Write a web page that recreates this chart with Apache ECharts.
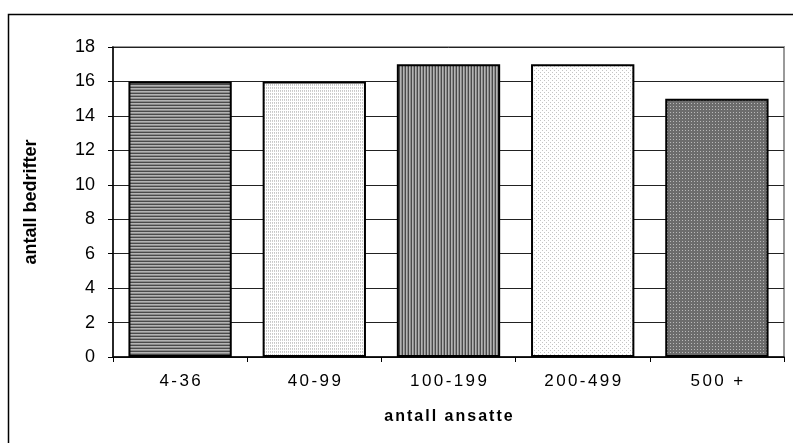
<!DOCTYPE html>
<html>
<head>
<meta charset="utf-8">
<script src="https://cdn.jsdelivr.net/npm/echarts@6/dist/echarts.min.js"></script>
<style>
  html, body { margin: 0; padding: 0; background: #fff; }
  #chart { width: 793px; height: 443px; }
</style>
</head>
<body>
<div id="chart"></div>
<script>
// Number of companies by employee-count group
const categories = ['4-36', '40-99', '100-199', '200-499', '500 +'];
const companies = [16, 16, 17, 17, 15];
const xAxisTitle = 'antall ansatte';
const yAxisTitle = 'antall bedrifter';

// Small tiled canvases used as bar fills
function makePattern(w, h, bg, dots) {
  const c = document.createElement('canvas');
  c.width = w; c.height = h;
  const ctx = c.getContext('2d');
  ctx.fillStyle = bg;
  ctx.fillRect(0, 0, w, h);
  dots.forEach(function (d) {
    ctx.fillStyle = d[2];
    ctx.fillRect(d[0], d[1], 1, 1);
  });
  return { image: c, repeat: 'repeat' };
}
function rowStripes(colors) {
  const dots = [];
  colors.forEach(function (col, y) { dots.push([0, y, col]); });
  return makePattern(1, colors.length, colors[0], dots);
}
function colStripes(colors) {
  const dots = [];
  colors.forEach(function (col, x) { dots.push([x, 0, col]); });
  return makePattern(colors.length, 1, colors[0], dots);
}

const fills = [
  rowStripes(['#4a4a4a', '#b4b4b4', '#8c8c8c']),
  makePattern(2, 3, '#ffffff', [[0, 0, '#c8c8c8'], [0, 1, '#d0d0d0']]),
  colStripes(['#4a4a4a', '#b4b4b4', '#8c8c8c']),
  makePattern(4, 4, '#ffffff', [[0, 0, '#c4c4c4'], [2, 2, '#c4c4c4']]),
  makePattern(3, 3, '#6c6c6c', [[1, 1, '#b8b8b8']])
];

// Spread characters out using per-character rich text tokens
function spaced(str, key) {
  return str.split('').map(function (ch) { return '{' + key + '|' + ch + '}'; }).join('');
}

const FONT = 'Liberation Sans, Arial, sans-serif';

const chart = echarts.init(document.getElementById('chart'), null, { renderer: 'canvas' });

chart.setOption({
  animation: false,
  backgroundColor: '#ffffff',
  graphic: [{
    type: 'rect',
    shape: { x: 8.5, y: 14.5, width: 900, height: 600 },
    style: { fill: 'none', stroke: '#000', lineWidth: 1.5 },
    silent: true,
    z: -1
  }],
  grid: {
    left: 113, right: 9, top: 47, bottom: 86,
    show: true,
    borderColor: '#9a9a9a',
    borderWidth: 2,
    backgroundColor: 'transparent'
  },
  xAxis: {
    type: 'category',
    data: categories,
    name: spaced(xAxisTitle, 'n'),
    nameLocation: 'middle',
    nameGap: 52,
    nameTextStyle: {
      fontFamily: FONT, fontWeight: 'bold', fontSize: 16, color: '#000',
      rich: {
        n: { fontFamily: FONT, fontWeight: 'bold', fontSize: 16, color: '#000', padding: [0, 1, 0, 1] }
      }
    },
    axisLine: { lineStyle: { color: '#000', width: 1.5 } },
    axisTick: { show: true, alignWithLabel: false, length: 5, lineStyle: { color: '#000', width: 1 } },
    axisLabel: {
      interval: 0,
      margin: 16,
      fontFamily: FONT, fontSize: 17, color: '#000',
      formatter: function (v) { return spaced(v, 'c'); },
      rich: {
        c: { fontFamily: FONT, fontSize: 17, color: '#000', padding: [0, 1.2, 0, 1.2] }
      }
    },
    splitLine: { show: false }
  },
  yAxis: {
    type: 'value',
    min: 0,
    max: 18,
    interval: 2,
    name: yAxisTitle,
    nameLocation: 'middle',
    nameGap: 73,
    nameRotate: 90,
    nameTextStyle: { fontFamily: FONT, fontWeight: 'bold', fontSize: 18, color: '#000' },
    axisLine: { show: true, lineStyle: { color: '#000', width: 1.5 } },
    axisTick: { show: true, length: 5, lineStyle: { color: '#000', width: 1 } },
    axisLabel: { margin: 18, fontFamily: FONT, fontSize: 18, color: '#000' },
    splitLine: { show: true, lineStyle: { color: '#222', width: 1 } }
  },
  series: [{
    type: 'bar',
    barCategoryGap: '23%',
    data: companies.map(function (v, i) {
      return { value: v, itemStyle: { color: fills[i] } };
    }),
    itemStyle: { borderColor: '#000', borderWidth: 2 }
  }]
});
</script>
</body>
</html>
